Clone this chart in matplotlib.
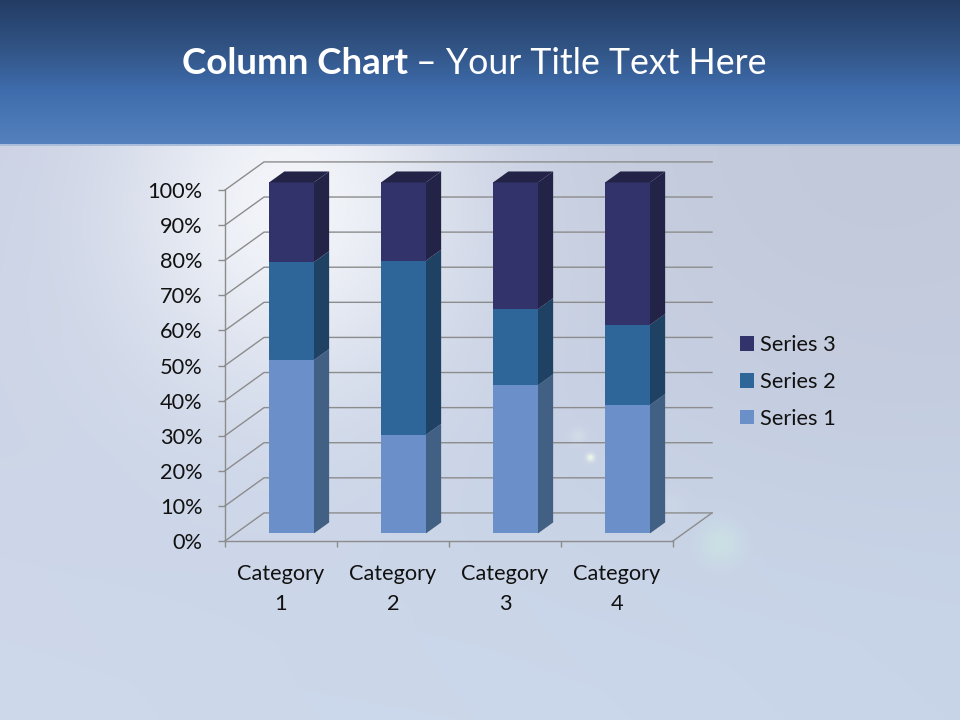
import matplotlib
matplotlib.use("Agg")
import matplotlib.pyplot as plt
import numpy as np
from matplotlib.patches import Patch, Polygon

plt.rcParams["font.family"] = ["Lato", "DejaVu Sans"]

categories = ["Category\n1", "Category\n2", "Category\n3", "Category\n4"]
series_names = ["Series 1", "Series 2", "Series 3"]
series_1 = [49.4, 28.1, 42.2, 36.6]
series_2 = [27.9, 49.6, 21.7, 22.8]
series_3 = [22.7, 22.3, 36.1, 40.6]
y_ticks = [0, 10, 20, 30, 40, 50, 60, 70, 80, 90, 100]

front_colors = ["#6B90C9", "#2F6699", "#33336B"]
side_colors = ["#426083", "#1E4164", "#232347"]

# wall offset of the fake 3D box, in data units
DEPTH_X = 39 / 112
DEPTH_Y = 8.0
BAR_FRONT = 0.27
BAR_BACK = 0.66
BAR_HALF = 0.2


def project(x, y, depth):
    return x + depth * DEPTH_X, y + depth * DEPTH_Y


def glow(xx, yy, cx, cy, rx, ry):
    return np.exp(-(((xx - cx) / rx) ** 2 + ((yy - cy) / ry) ** 2))


def make_background():
    yy, xx = np.mgrid[0:720, 0:960].astype(float)
    img = np.zeros((720, 960, 3))

    # body of the slide
    t = yy / 720
    s = xx / 960
    for c, (top, bottom, right) in enumerate(zip((202, 208, 226), (206, 217, 235), (-6, -4, -2))):
        img[..., c] = top + (bottom - top) * t + right * s
    dark = glow(xx, yy, 860, 200, 300, 260)[..., None]
    img = img * (1 - 0.4 * dark) + np.array([190, 194, 208]) * 0.4 * dark
    light = glow(xx, yy, 290, 200, 170, 190)[..., None]
    img = img * (1 - 0.85 * light) + np.array([250, 251, 253]) * 0.85 * light

    # lens flare spots
    for cx, cy, r, a, col in [(590, 457, 4, 0.9, (240, 250, 235)),
                              (578, 436, 8, 0.25, (235, 245, 240)),
                              (720, 543, 22, 0.6, (205, 232, 228)),
                              (672, 505, 12, 0.2, (215, 230, 228))]:
        g = a * glow(xx, yy, cx, cy, r, r)[..., None]
        img = img * (1 - g) + np.array(col) * g

    # title band
    band = yy < 145
    stops_y = [0, 50, 90, 145]
    stops_rgb = [(35, 60, 100), (50, 85, 135), (62, 108, 172), (85, 130, 190)]
    for c in range(3):
        img[band, c] = np.interp(yy[band], stops_y, [rgb[c] for rgb in stops_rgb])
    img[144:146, :, :] = (170, 190, 220)
    return np.clip(img, 0, 255).astype(np.uint8)


fig = plt.figure(figsize=(9.6, 7.2), dpi=100)

bg = fig.add_axes([0, 0, 1, 1], zorder=0)
bg.imshow(make_background(), aspect="auto")
bg.axis("off")

fig.text(408 / 960, 1 - 64 / 720, "Column Chart", color="white", fontsize=26.5,
         fontweight="bold", ha="right", va="center")
fig.text(416 / 960, 1 - 64 / 720, "– Your Title Text Here", color="white", fontsize=25.7,
         ha="left", va="center")

ax = fig.add_axes([225 / 960, 1 - 541 / 720, 448 / 960, 351 / 720], zorder=1)
ax.patch.set_alpha(0)
ax.set_xlim(-0.5, 3.5)
ax.set_ylim(0, 100)

# walls
grid_color = "#8C8C8C"
for tick in y_ticks:
    xs0, ys0 = project(-0.5, tick, 0)
    xs1, ys1 = project(-0.5, tick, 1)
    xs2, ys2 = project(3.5, tick, 1)
    ax.plot([xs0, xs1, xs2], [ys0, ys1, ys2], color=grid_color, lw=1.0, clip_on=False, zorder=1)
xf, yf = project(3.5, 0, 1)
ax.plot([3.5, xf], [0, yf], color=grid_color, lw=1.0, clip_on=False, zorder=1)

# stacked columns
stacks = [series_1, series_2, series_3]
for i in range(len(categories)):
    base = 0.0
    for s, values in enumerate(stacks):
        top = base + values[i]
        left = i - BAR_HALF
        right = i + BAR_HALF
        ax.add_patch(Polygon([project(right, base, BAR_FRONT), project(right, base, BAR_BACK),
                              project(right, top, BAR_BACK), project(right, top, BAR_FRONT)],
                             fc=side_colors[s], ec="none", clip_on=False, zorder=3))
        ax.add_patch(Polygon([project(left, base, BAR_FRONT), project(right, base, BAR_FRONT),
                              project(right, top, BAR_FRONT), project(left, top, BAR_FRONT)],
                             fc=front_colors[s], ec="none", clip_on=False, zorder=4))
        base = top
    ax.add_patch(Polygon([project(i - BAR_HALF, base, BAR_FRONT), project(i + BAR_HALF, base, BAR_FRONT),
                          project(i + BAR_HALF, base, BAR_BACK), project(i - BAR_HALF, base, BAR_BACK)],
                         fc=side_colors[2], ec="none", clip_on=False, zorder=4))

for side in ["top", "right"]:
    ax.spines[side].set_visible(False)
for side in ["left", "bottom"]:
    ax.spines[side].set_color(grid_color)
    ax.spines[side].set_linewidth(1.0)

ax.set_yticks(y_ticks)
ax.set_yticklabels([f"{t}%" for t in y_ticks], fontsize=15.7, color="#111111")
ax.tick_params(axis="y", length=5, width=1.0, color=grid_color, pad=11)

ax.set_xticks(np.arange(-0.5, 4, 1))
ax.set_xticklabels([])
ax.tick_params(axis="x", which="major", length=4.3, width=1.0, color=grid_color)
ax.set_xticks(range(len(categories)), minor=True)
ax.set_xticklabels(categories, minor=True, fontsize=15.7, color="#111111", linespacing=1.65)
ax.tick_params(axis="x", which="minor", length=0, pad=16.5)

handles = [Patch(fc=front_colors[s], ec="none") for s in (2, 1, 0)]
ax.legend(handles, [series_names[s] for s in (2, 1, 0)], loc="center left",
          bbox_to_anchor=(740 / 960, 1 - 382 / 720), bbox_transform=fig.transFigure,
          frameon=False, fontsize=15.7, labelcolor="#111111", handlelength=0.64, handleheight=0.64,
          handletextpad=0.28, labelspacing=0.765, borderpad=0, borderaxespad=0)

fig.savefig("out.png", dpi=100)
